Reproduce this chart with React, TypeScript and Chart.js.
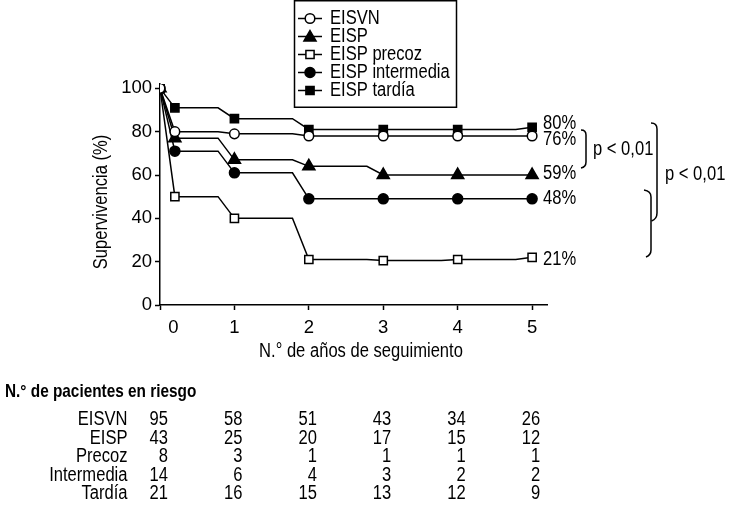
import React, { useEffect, useRef } from 'react';
import { Chart, registerables } from 'chart.js';

Chart.register(...registerables);

// ---------- data ----------
const seriesNames = ['EISVN', 'EISP', 'EISP precoz', 'EISP intermedia', 'EISP tardía'];
// first time point = study start (100 %), second = the point plotted at "0"
const timePoints = [0, 0.2, 1, 2, 3, 4, 5];
const eisvn = [100, 80, 79, 78, 78, 78, 78];
const eisp = [100, 77, 67, 64, 60, 60, 60];
const precoz = [100, 50, 40, 21, 20.5, 21, 22];
const intermedia = [100, 71, 61, 49, 49, 49, 49];
const tardia = [100, 91, 86, 81, 81, 81, 82];
const endLabels = ['76%', '59%', '21%', '48%', '80%'];

const xTickValues = [0, 0.18, 1, 2, 3, 4, 5];
const xTickLabels = ['', '0', '1', '2', '3', '4', '5'];
const yTickValues = [0, 20, 40, 60, 80, 100];

const yTitle = 'Supervivencia (%)';
const xTitle = 'N.° de años de seguimiento';
const pValueText = 'p < 0,01';

const riskTitle = 'N.° de pacientes en riesgo';
const riskYears = [0, 1, 2, 3, 4, 5];
const riskRowLabels = ['EISVN', 'EISP', 'Precoz', 'Intermedia', 'Tardía'];
const riskEISVN = [95, 58, 51, 43, 34, 26];
const riskEISP = [43, 25, 20, 17, 15, 12];
const riskPrecoz = [8, 3, 1, 1, 1, 1];
const riskIntermedia = [14, 6, 4, 3, 2, 2];
const riskTardia = [21, 16, 15, 13, 12, 9];

// ---------- styles ----------
const FONT = '"Liberation Sans", Arial, sans-serif';
const NARROW = 0.85; // horizontal condensing of annotation text
const DROP = 0.22; // width (in years) of the slanted drop before each step
const seriesStyles = [
  { style: 'circle', fill: '#ffffff', radius: 4.8 },
  { style: 'triangle', fill: '#000000', radius: 7 },
  { style: 'rect', fill: '#ffffff', radius: 5.8 },
  { style: 'circle', fill: '#000000', radius: 5 },
  { style: 'rect', fill: '#000000', radius: 5.8 },
];
const labelNudge = [4, -1, 2, 0, -4];

function buildLine(values: number[]) {
  const pts: any[] = [{ x: timePoints[0], y: values[0] }, { x: timePoints[1], y: values[1] }];
  for (let i = 2; i < values.length; i++) {
    pts.push({ x: timePoints[i] - DROP, y: values[i - 1], corner: true });
    pts.push({ x: timePoints[i], y: values[i] });
  }
  return pts;
}

function text(ctx: CanvasRenderingContext2D, t: string, x: number, y: number, align: CanvasTextAlign, font: string, sx = NARROW, rot = 0) {
  ctx.save();
  ctx.translate(x, y);
  if (rot) ctx.rotate(rot);
  ctx.scale(sx, 1);
  ctx.font = font;
  ctx.textAlign = align;
  ctx.textBaseline = 'middle';
  ctx.fillStyle = '#000';
  ctx.fillText(t, 0, 0);
  ctx.restore();
}

function drawMarker(ctx: CanvasRenderingContext2D, style: string, x: number, y: number, r: number, fill: string) {
  ctx.save();
  ctx.beginPath();
  if (style === 'circle') {
    ctx.arc(x, y, r, 0, Math.PI * 2);
  } else if (style === 'triangle') {
    ctx.moveTo(x, y - r);
    ctx.lineTo(x + r * 0.866, y + r * 0.5);
    ctx.lineTo(x - r * 0.866, y + r * 0.5);
    ctx.closePath();
  } else {
    const s = r * Math.SQRT1_2;
    ctx.rect(x - s, y - s, 2 * s, 2 * s);
  }
  ctx.fillStyle = fill;
  ctx.fill();
  ctx.lineWidth = 1.5;
  ctx.strokeStyle = '#000';
  ctx.stroke();
  ctx.restore();
}

const decorPlugin = {
  id: 'decor',
  afterDraw(chart: any) {
    const ctx: CanvasRenderingContext2D = chart.ctx;
    const xs = chart.scales.x;
    const ys = chart.scales.y;
    const fText = `19.5px ${FONT}`;
    ctx.save();
    ctx.fillStyle = '#000';
    ctx.strokeStyle = '#000';

    // axis titles
    text(ctx, yTitle, 102, 202, 'center', fText, NARROW, -Math.PI / 2);
    text(ctx, xTitle, 361, 352, 'center', fText);

    // end labels
    const allSeries = [eisvn, eisp, precoz, intermedia, tardia];
    allSeries.forEach((s, i) => {
      const last = s.length - 1;
      text(ctx, endLabels[i], xs.getPixelForValue(timePoints[last]) + 11, ys.getPixelForValue(s[last]) + labelNudge[i], 'left', fText);
    });

    // brackets
    ctx.lineWidth = 1.5;
    ctx.beginPath();
    ctx.moveTo(581, 130);
    ctx.quadraticCurveTo(586, 130, 586, 135);
    ctx.lineTo(586, 162);
    ctx.quadraticCurveTo(586, 167, 581, 168);
    ctx.stroke();
    ctx.beginPath();
    ctx.moveTo(651, 123);
    ctx.quadraticCurveTo(657, 123, 657, 129);
    ctx.lineTo(657, 213);
    ctx.quadraticCurveTo(657, 219, 651.5, 221);
    ctx.stroke();
    ctx.beginPath();
    ctx.moveTo(644, 190);
    ctx.quadraticCurveTo(651, 191, 651, 197);
    ctx.lineTo(651, 250);
    ctx.quadraticCurveTo(651, 255, 646, 257);
    ctx.stroke();
    text(ctx, pValueText, 593, 150, 'left', fText);
    text(ctx, pValueText, 665, 175, 'left', fText);

    // legend
    ctx.fillStyle = '#fff';
    ctx.fillRect(294, 0, 162, 107);
    ctx.lineWidth = 1.5;
    ctx.strokeRect(294.5, 0.75, 162, 106.5);
    seriesNames.forEach((name, i) => {
      const y = 18.5 + i * 18;
      ctx.beginPath();
      ctx.moveTo(298, y);
      ctx.lineTo(322, y);
      ctx.lineWidth = 1.5;
      ctx.strokeStyle = '#000';
      ctx.stroke();
      const st = seriesStyles[i];
      drawMarker(ctx, st.style, 310, y + (st.style === 'triangle' ? 1 : 0), st.radius, st.fill);
      text(ctx, name, 330, y, 'left', fText);
    });

    // number at risk table
    text(ctx, riskTitle, 5, 392, 'left', `bold 18.5px ${FONT}`, 0.83);
    const rows = [riskEISVN, riskEISP, riskPrecoz, riskIntermedia, riskTardia];
    rows.forEach((row, r) => {
      const y = 420 + r * 18.4;
      text(ctx, riskRowLabels[r], 127.5, y, 'right', fText);
      row.forEach((v, c) => {
        text(ctx, String(v), xs.getPixelForValue(riskYears[c]) + 8, y, 'right', fText);
      });
    });
    ctx.restore();
  },
};

export default function App() {
  const ref = useRef<HTMLCanvasElement>(null);
  useEffect(() => {
    if (!ref.current) return;
    Chart.defaults.font.family = FONT;
    Chart.defaults.color = '#000';
    const allSeries = [eisvn, eisp, precoz, intermedia, tardia];
    const chart = new Chart(ref.current, {
      type: 'line',
      data: {
        datasets: allSeries.map((s, i) => ({
          label: seriesNames[i],
          data: buildLine(s),
          borderColor: '#000',
          borderWidth: 1.5,
          backgroundColor: seriesStyles[i].fill,
          pointBackgroundColor: seriesStyles[i].fill,
          pointBorderColor: '#000',
          pointBorderWidth: 1.5,
          pointStyle: seriesStyles[i].style,
          pointRadius: (c: any) => (c.raw && c.raw.corner ? 0 : seriesStyles[i].radius),
          tension: 0,
          fill: false,
        })),
      },
      options: {
        animation: false,
        responsive: true,
        maintainAspectRatio: false,
        events: [],
        layout: { padding: { top: 84, right: 183, left: 0, bottom: 0 } },
        plugins: { legend: { display: false }, tooltip: { enabled: false } },
        scales: {
          x: {
            type: 'linear',
            min: 0,
            max: 5.2,
            afterFit: (s: any) => { s.height = 202; },
            afterBuildTicks: (s: any) => { s.ticks = xTickValues.map((v) => ({ value: v })); },
            ticks: {
              autoSkip: false,
              maxRotation: 0,
              padding: 7,
              font: { size: 18.5 },
              color: '#000',
              callback: (_v: any, idx: number) => xTickLabels[idx],
            },
            grid: {
              drawOnChartArea: false,
              drawTicks: true,
              tickLength: 5,
              tickWidth: 1.5,
              tickColor: (c: any) => (c.tick && c.tick.value === xTickValues[1] ? 'rgba(0,0,0,0)' : '#000'),
            },
            border: { color: '#000', width: 1.5 },
          },
          y: {
            type: 'linear',
            min: 0,
            max: 102,
            afterFit: (s: any) => { s.width = 160; },
            afterBuildTicks: (s: any) => { s.ticks = yTickValues.map((v) => ({ value: v })); },
            ticks: { padding: 3, font: { size: 18.5 }, color: '#000', includeBounds: false },
            grid: { drawOnChartArea: false, drawTicks: true, tickLength: 5, tickWidth: 1.5, tickColor: '#000' },
            border: { color: '#000', width: 1.5 },
          },
        },
      },
      plugins: [decorPlugin],
    } as any);
    return () => chart.destroy();
  }, []);
  return (
    <div style={{ position: 'fixed', left: 0, top: 0, width: 730, height: 507, background: '#fff' }}>
      <canvas ref={ref} />
    </div>
  );
}
